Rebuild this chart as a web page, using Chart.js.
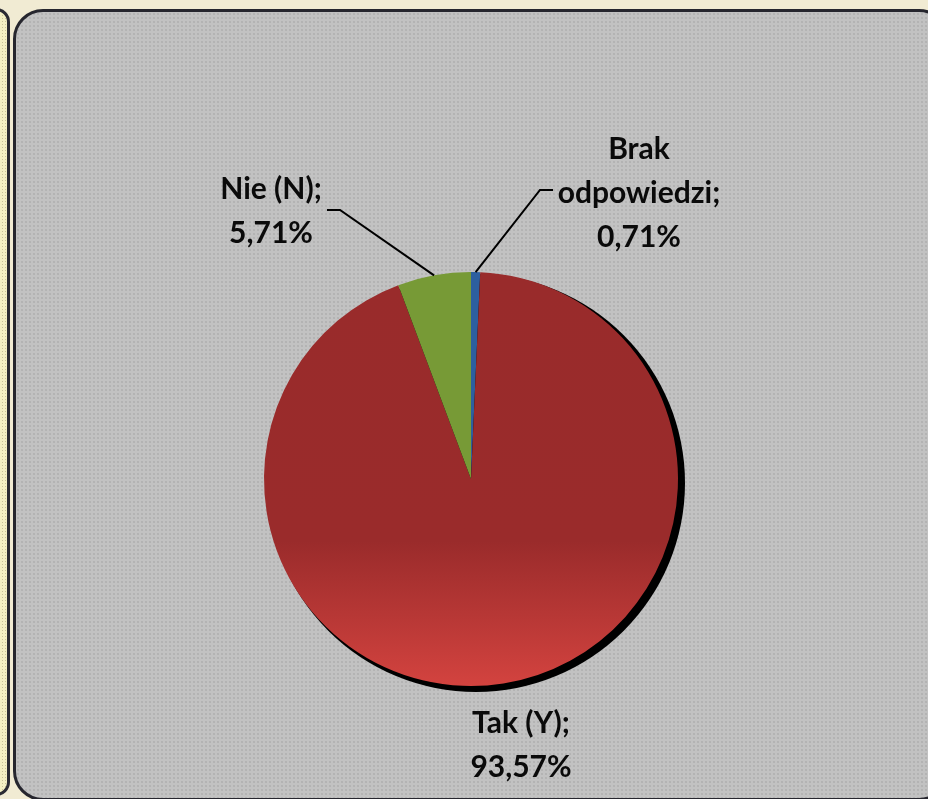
<!DOCTYPE html>
<html>
<head>
<meta charset="utf-8">
<script src="https://cdn.jsdelivr.net/npm/chart.js@4.4.1/dist/chart.umd.min.js"></script>
<style>
  html, body { margin: 0; padding: 0; }
  body { width: 928px; height: 799px; background: #f1ebd3; position: relative; overflow: hidden; }
  .strip {
    position: absolute; left: -20px; top: 8px; width: 24px; height: 782px;
    border: 3px solid #2b2b33; border-radius: 14px;
    background-color: #f4f0c4;
    background-image: radial-gradient(#c9c39a 0.7px, transparent 0.9px);
    background-size: 3px 3px;
  }
  .panel {
    position: absolute; left: 13px; top: 9px; width: 930px; height: 786px;
    border: 3px solid #26262e; border-radius: 30px;
    background-color: #c2c2c2;
    background-image: radial-gradient(#939393 0.5px, transparent 0.8px);
    background-size: 4px 4px;
  }
  #chart { position: absolute; left: 0; top: 0; }
</style>
</head>
<body>
<div class="strip"></div>
<div class="panel"></div>
<canvas id="chart" width="928" height="799"></canvas>
<script>
document.addEventListener('DOMContentLoaded', function () {
    const ctx = document.getElementById('chart').getContext('2d');

    // data (clockwise from 12 o'clock)
    const categories = ['Brak odpowiedzi', 'Tak (Y)', 'Nie (N)'];
    const percentages = [0.71, 93.57, 5.71];
    const labelLines = [
        ['Brak', 'odpowiedzi;', '0,71%'],
        ['Tak (Y);', '93,57%'],
        ['Nie (N);', '5,71%']
    ];
    const sliceColors = ['#2d5f9f', 'gradient', '#779a36'];

    // label placement relative to pie centre (text centre, elbow of leader line)
    const labelPlace = [
        { x: 168, y: -286, elbow: { x: 69, y: -289 }, tail: 13, lead: true },
        { x: 50, y: 266, lead: false },
        { x: -200, y: -268, elbow: { x: -131, y: -269 }, tail: -13, lead: true }
    ];

    function sliceFill(context) {
        const col = sliceColors[context.dataIndex];
        if (col !== 'gradient') return col;
        const area = context.chart.chartArea;
        if (!area) return '#9b2c2c';
        const g = context.chart.ctx.createLinearGradient(0, area.top, 0, area.bottom);
        g.addColorStop(0, '#992b2b');
        g.addColorStop(0.65, '#9a2b2b');
        g.addColorStop(1, '#d3433f');
        return g;
    }

    const pieShadow = {
        id: 'pieShadow',
        beforeDatasetsDraw(chart) {
            const arc = chart.getDatasetMeta(0).data[0];
            if (!arc) return;
            const c = chart.ctx;
            c.save();
            c.fillStyle = '#000';
            c.beginPath();
            c.arc(arc.x + 5, arc.y + 4, arc.outerRadius + 2, 0, Math.PI * 2);
            c.fill();
            c.restore();
        }
    };

    const sliceLabels = {
        id: 'sliceLabels',
        afterDatasetsDraw(chart) {
            const c = chart.ctx;
            const meta = chart.getDatasetMeta(0);
            c.save();
            c.font = 'bold 30px Lato, "Open Sans", sans-serif';
            c.fillStyle = '#0a0a0a';
            c.textAlign = 'center';
            c.textBaseline = 'middle';
            meta.data.forEach(function (arc, i) {
                const p = labelPlace[i];
                const cx = arc.x, cy = arc.y;
                if (p.lead) {
                    const mid = (arc.startAngle + arc.endAngle) / 2;
                    const ex = cx + Math.cos(mid) * arc.outerRadius;
                    const ey = cy + Math.sin(mid) * arc.outerRadius;
                    c.strokeStyle = '#000';
                    c.lineWidth = 2;
                    c.beginPath();
                    c.moveTo(ex, ey);
                    c.lineTo(cx + p.elbow.x, cy + p.elbow.y);
                    c.lineTo(cx + p.elbow.x + p.tail, cy + p.elbow.y);
                    c.stroke();
                }
                const lines = labelLines[i];
                const lh = 44;
                const top = cy + p.y - (lines.length - 1) * lh / 2;
                lines.forEach(function (t, k) {
                    c.fillText(t, cx + p.x, top + k * lh);
                });
            });
            c.restore();
        }
    };

    new Chart(ctx, {
        type: 'pie',
        data: {
            labels: categories,
            datasets: [{
                data: percentages,
                backgroundColor: sliceFill,
                borderWidth: 0
            }]
        },
        options: {
            responsive: false,
            animation: false,
            layout: { padding: { left: 200, right: 186, top: 272, bottom: 113 } },
            plugins: {
                legend: { display: false },
                tooltip: { enabled: false }
            }
        },
        plugins: [pieShadow, sliceLabels]
    });
});
</script>
</body>
</html>
